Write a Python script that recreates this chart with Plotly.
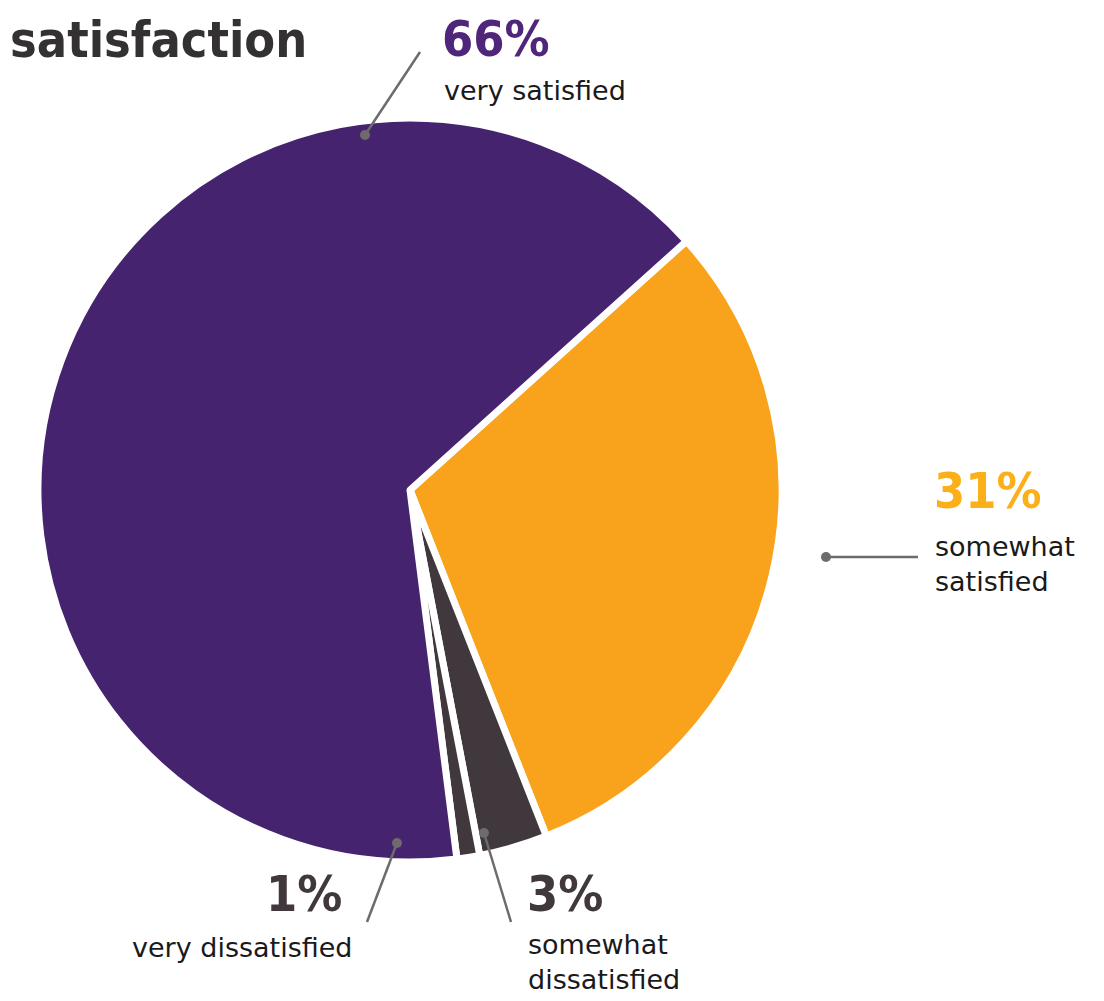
import plotly.graph_objects as go

# Data
categories = ["somewhat satisfied", "somewhat dissatisfied", "very dissatisfied", "very satisfied"]
values = [31, 3, 1, 66]
pct_labels = ["31%", "3%", "1%", "66%"]
colors = ["#f9a31c", "#40383c", "#40383c", "#45236f"]

W, H = 1104, 1001
OFF = 8  # page body margin
cx, cy, r = 410, 490, 372

def px(x):
    return (x - OFF) / W

def py(y):
    return 1 - (y - OFF) / H

fig = go.Figure()
fig.add_trace(go.Pie(
    labels=categories,
    values=values,
    sort=False,
    direction="clockwise",
    rotation=48,
    marker=dict(colors=colors, line=dict(color="white", width=7)),
    textinfo="none",
    hoverinfo="skip",
    showlegend=False,
    domain=dict(x=[px(cx - r), px(cx + r)], y=[py(cy + r), py(cy - r)]),
))

grey = "#6d6b6c"
shapes = []
lines = [
    ((365, 135), (420, 52)),
    ((826, 557), (918, 557)),
    ((397, 843), (367, 922)),
    ((484, 833), (511, 922)),
]
for (x0, y0), (x1, y1) in lines:
    shapes.append(dict(type="line", xref="paper", yref="paper",
                       x0=px(x0), y0=py(y0), x1=px(x1), y1=py(y1),
                       line=dict(color=grey, width=2.5)))
    shapes.append(dict(type="circle", xref="paper", yref="paper",
                       x0=px(x0 - 5), x1=px(x0 + 5), y0=py(y0 + 5), y1=py(y0 - 5),
                       fillcolor=grey, line=dict(width=0)))

BIGFAM = "DejaVu Sans Condensed, DejaVu Sans"
big = dict(family=BIGFAM, size=50, weight=700)
small = dict(family="DejaVu Sans", size=27, color="#1a1a1a")

annotations = [
    dict(text="satisfaction", x=0, y=py(40), xanchor="left", yanchor="middle",
         font=dict(family=BIGFAM, size=50, weight=700, color="#333132")),
    # very satisfied
    dict(text=pct_labels[3], x=px(440), y=py(39), xanchor="left", yanchor="middle",
         font=dict(**big, color="#4f2679")),
    dict(text="very satisfied", x=px(442), y=py(90), xanchor="left", yanchor="middle",
         font=small),
    # somewhat satisfied
    dict(text=pct_labels[0], x=px(932), y=py(491), xanchor="left", yanchor="middle",
         font=dict(**big, color="#fbb01a")),
    dict(text="somewhat<br>satisfied", x=px(933), y=py(564), xanchor="left", yanchor="middle",
         align="left", font=small),
    # very dissatisfied
    dict(text=pct_labels[2], x=px(344), y=py(894), xanchor="right", yanchor="middle",
         font=dict(**big, color="#40383c")),
    dict(text="very dissatisfied", x=px(354), y=py(947), xanchor="right", yanchor="middle",
         font=small),
    # somewhat dissatisfied
    dict(text=pct_labels[1], x=px(525), y=py(894), xanchor="left", yanchor="middle",
         font=dict(**big, color="#40383c")),
    dict(text="somewhat<br>dissatisfied", x=px(526), y=py(962), xanchor="left", yanchor="middle",
         align="left", font=small),
]
for a in annotations:
    a.update(xref="paper", yref="paper", showarrow=False)

fig.update_layout(
    width=W, height=H,
    margin=dict(l=0, r=0, t=0, b=0),
    paper_bgcolor="white",
    plot_bgcolor="white",
    shapes=shapes,
    annotations=annotations,
)

fig.write_html("out.html")
